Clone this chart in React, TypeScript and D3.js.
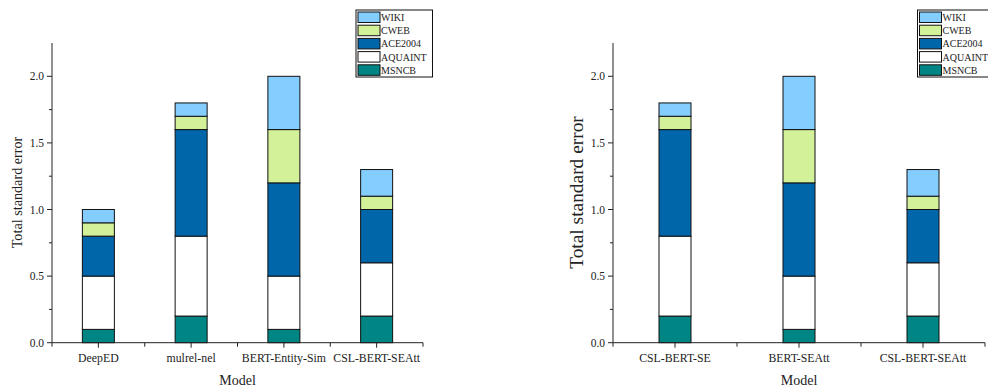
import React from 'react';
import * as d3 from 'd3';

const seriesNames = ['MSNCB', 'AQUAINT', 'ACE2004', 'CWEB', 'WIKI'];
const seriesColors = ['#008585', '#ffffff', '#0066aa', '#d3f199', '#84cdff'];

const leftModels = ['DeepED', 'mulrel-nel', 'BERT-Entity-Sim', 'CSL-BERT-SEAtt'];
const leftMSNCB = [0.1, 0.2, 0.1, 0.2];
const leftAQUAINT = [0.4, 0.6, 0.4, 0.4];
const leftACE2004 = [0.3, 0.8, 0.7, 0.4];
const leftCWEB = [0.1, 0.1, 0.4, 0.1];
const leftWIKI = [0.1, 0.1, 0.4, 0.2];

const rightModels = ['CSL-BERT-SE', 'BERT-SEAtt', 'CSL-BERT-SEAtt'];
const rightMSNCB = [0.2, 0.1, 0.2];
const rightAQUAINT = [0.6, 0.4, 0.4];
const rightACE2004 = [0.8, 0.7, 0.4];
const rightCWEB = [0.1, 0.4, 0.1];
const rightWIKI = [0.1, 0.4, 0.2];

const yMajor = [0, 0.5, 1.0, 1.5, 2.0];
const yMinor = [0.25, 0.75, 1.25, 1.75];

const FONT = '"Liberation Serif", "Times New Roman", serif';

type PanelProps = {
  x0: number;
  x1: number;
  models: string[];
  values: number[][];
  titleSize: number;
  titleX: number;
  legendX: number;
};

const Panel = ({ x0, x1, models, values, titleSize, titleX, legendX }: PanelProps) => {
  const yTop = 43;
  const yBottom = 342.7;
  const y = d3.scaleLinear().domain([0, 2.25]).range([yBottom, yTop]);
  const x = d3.scaleBand().domain(models).range([x0, x1]);
  const barW = 32;

  const table = models.map((m, i) => {
    const row: any = { model: m };
    seriesNames.forEach((s, k) => (row[s] = values[k][i]));
    return row;
  });
  const stacked = d3.stack().keys(seriesNames)(table);

  const bounds = models.map((m) => x(m)!).concat([x1]);

  return (
    <g fontFamily={FONT}>
      {/* bars */}
      {stacked.map((layer, k) => (
        <g key={layer.key}>
          {layer.map((d, i) => {
            const cx = x(models[i])! + x.bandwidth() / 2;
            return (
              <rect
                key={i}
                x={cx - barW / 2}
                y={y(d[1])}
                width={barW}
                height={y(d[0]) - y(d[1])}
                fill={seriesColors[k]}
                stroke="#111"
                strokeWidth={1}
              />
            );
          })}
        </g>
      ))}

      {/* y axis */}
      <line x1={x0} x2={x0} y1={yTop} y2={yBottom} stroke="#222" strokeWidth={1} />
      {yMajor.map((v) => (
        <g key={v}>
          <line x1={x0 - 5} x2={x0} y1={y(v)} y2={y(v)} stroke="#222" />
          <text x={x0 - 8} y={y(v)} dy="0.35em" fontSize={11.5} textAnchor="end" fill="#222">
            {d3.format('.1f')(v)}
          </text>
        </g>
      ))}
      {yMinor.map((v) => (
        <line key={v} x1={x0 - 3} x2={x0} y1={y(v)} y2={y(v)} stroke="#222" />
      ))}

      {/* x axis */}
      <line x1={x0} x2={x1} y1={yBottom} y2={yBottom} stroke="#222" strokeWidth={1} />
      {bounds.map((b, i) => (
        <line key={'b' + i} x1={b} x2={b} y1={yBottom} y2={yBottom + 4} stroke="#222" />
      ))}
      {models.map((m) => {
        const cx = x(m)! + x.bandwidth() / 2;
        return (
          <g key={m}>
            <line x1={cx} x2={cx} y1={yBottom} y2={yBottom + 5} stroke="#222" />
            <text x={cx} y={358} dy="0.35em" fontSize={11.8} textAnchor="middle" fill="#222">
              {m}
            </text>
          </g>
        );
      })}

      <text x={(x0 + x1) / 2} y={380} dy="0.35em" fontSize={14} textAnchor="middle" fill="#222">
        Model
      </text>
      <text
        transform={`translate(${titleX},${192.5}) rotate(-90)`}
        fontSize={titleSize}
        textAnchor="middle"
        dy="0.35em"
        fill="#222"
      >
        Total standard error
      </text>

      {/* legend */}
      <rect x={legendX} y={10} width={76.5} height={67} fill="#fff" stroke="#111" strokeWidth={1} />
      {seriesNames
        .slice()
        .reverse()
        .map((s, i) => {
          const k = seriesNames.length - 1 - i;
          const ry = 12 + i * 13.2;
          return (
            <g key={s}>
              <rect x={legendX + 2} y={ry} width={22} height={10.5} fill={seriesColors[k]} stroke="#111" />
              <text x={legendX + 25} y={ry + 5.5} dy="0.35em" fontSize={10} fill="#222">
                {s}
              </text>
            </g>
          );
        })}
    </g>
  );
};

export default function App() {
  return (
    <svg
      width={988}
      height={388}
      style={{ position: 'absolute', left: 0, top: 0, background: '#fff' }}
    >
      <Panel
        x0={52}
        x1={423}
        models={leftModels}
        values={[leftMSNCB, leftAQUAINT, leftACE2004, leftCWEB, leftWIKI]}
        titleSize={14.2}
        titleX={17.5}
        legendX={356}
      />
      <Panel
        x0={613}
        x1={985}
        models={rightModels}
        values={[rightMSNCB, rightAQUAINT, rightACE2004, rightCWEB, rightWIKI]}
        titleSize={19.4}
        titleX={576}
        legendX={917.5}
      />
    </svg>
  );
}
